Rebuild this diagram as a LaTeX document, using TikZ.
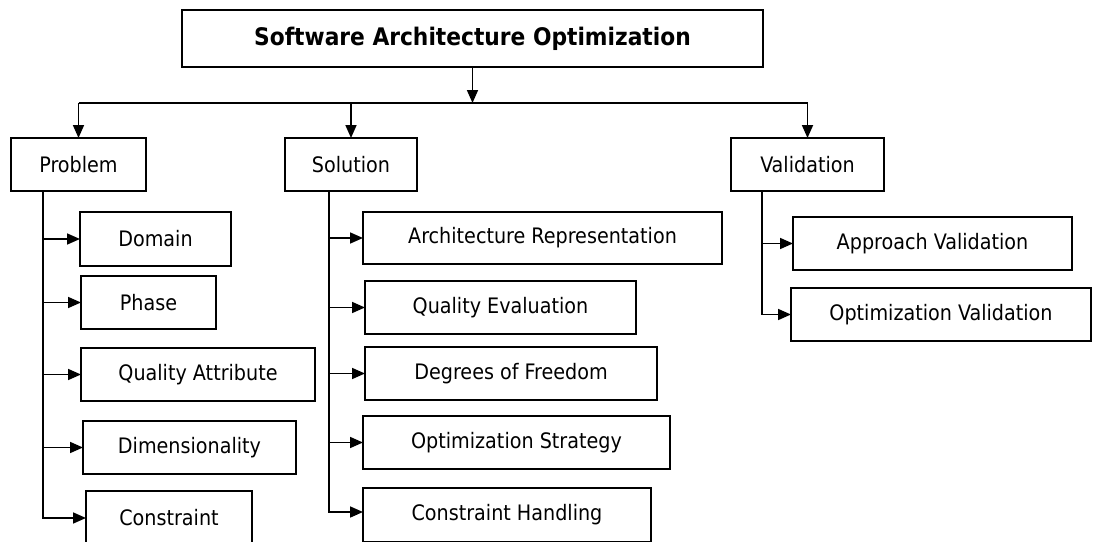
\documentclass[tikz,border=0pt]{standalone}
\usepackage{fontspec}
\setmainfont{DejaVu Sans Condensed}
\usetikzlibrary{arrows.meta}
\tikzset{
  box/.style={draw, line width=1.7pt, inner sep=0pt, outer sep=0pt, rectangle, font=\fontsize{21.3}{25}\selectfont},
  titlebox/.style={box, font=\fontsize{24.2}{28}\selectfont\bfseries},
  link/.style={line width=1.7pt},
  arr/.style={link, -{Triangle[length=13pt,width=11pt]}}
}
% name, x1, y1, x2, y2, text, style
\newcommand{\pbox}[7][box]{%
  \node[#1, minimum width={(#4-#2)*1pt}, minimum height={(#5-#3)*1pt}] (#6) at ({(#2+#4)/2},{(#3+#5)/2}) {#7};}
\begin{document}
\begin{tikzpicture}[x=1pt,y=-1pt]
\useasboundingbox (0,0) rectangle (1094,541);
\fill[white] (0,0) rectangle (1094,541);
% top
\pbox[titlebox]{182}{10}{763}{67}{top}{Software Architecture Optimization}
% level 1
\pbox{11}{138}{146}{191}{prob}{Problem}
\pbox{285}{138}{417}{191}{sol}{Solution}
\pbox{731}{138}{884}{191}{val}{Validation}
% problem children
\pbox{80}{212}{231}{266}{dom}{Domain}
\pbox{81}{276}{216}{329}{pha}{Phase}
\pbox{81}{348}{315}{401}{qa}{Quality Attribute}
\pbox{83}{421}{296}{474}{dim}{Dimensionality}
\pbox{86}{491}{252}{545}{con}{Constraint}
% solution children
\pbox{363}{212}{722}{264}{ar}{Architecture Representation}
\pbox{365}{281}{636}{334}{qe}{Quality Evaluation}
\pbox{365}{347}{657}{400}{dof}{Degrees of Freedom}
\pbox{363}{416}{670}{469}{os}{Optimization Strategy}
\pbox{363}{488}{651}{542}{ch}{Constraint Handling}
% validation children
\pbox{793}{217}{1072}{270}{av}{Approach Validation}
\pbox{791}{288}{1091}{341}{ov}{Optimization Validation}
% bus
\coordinate (busL) at (78.5,103);
\coordinate (busR) at (807.5,103);
\draw[arr] (top.south) -- (top.south |- busL);
\draw[link] (busL) -- (busR);
\draw[arr] (busL) -- (prob.north);
\draw[arr] (sol.north |- busL) -- (sol.north);
\draw[arr] (busR) -- (val.north);
% trunks
\coordinate (pt) at (43,191);
\coordinate (st) at (329,191);
\coordinate (vt) at (762,191);
\foreach \c in {dom,pha,qa,dim,con}{\draw[arr] (pt) |- (\c.west);}
\foreach \c in {ar,qe,dof,os}{\draw[arr] (st) |- (\c.west);}
\draw[arr] (st) |- (ch.west |- 0,512);
\foreach \c in {av,ov}{\draw[arr] (vt) |- (\c.west);}
\end{tikzpicture}
\end{document}
